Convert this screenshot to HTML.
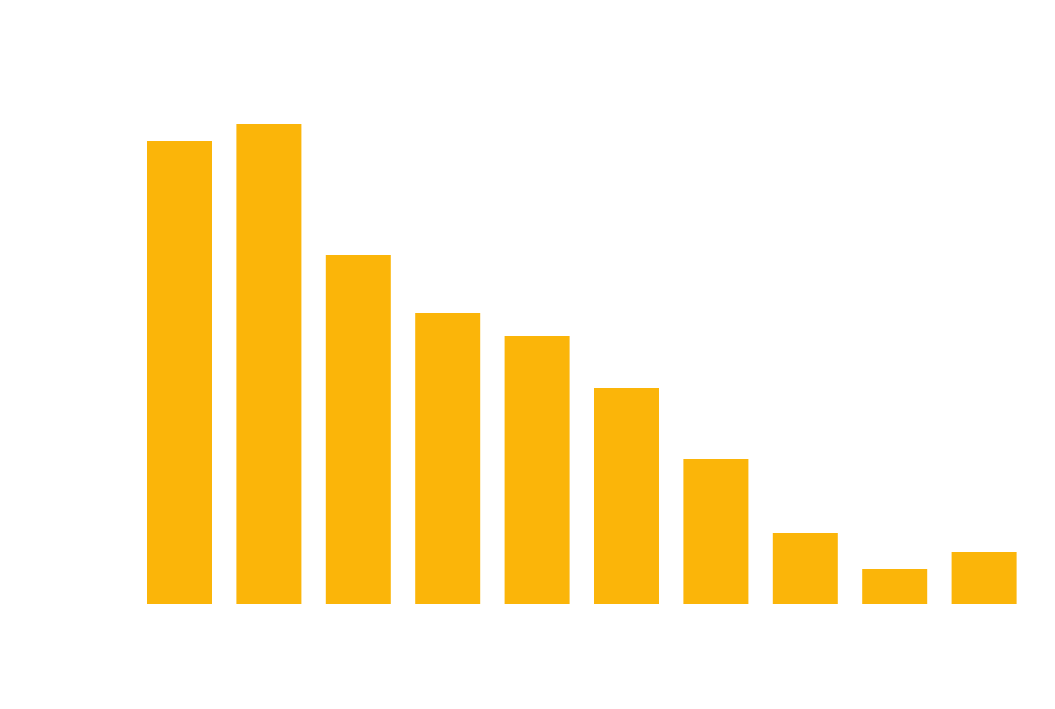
<!DOCTYPE html>
<html><head><style>
html,body{margin:0;padding:0;background:#fff;}
body{width:1055px;height:704px;overflow:hidden;}
</style></head><body>
<svg width="1055" height="704" xmlns="http://www.w3.org/2000/svg">
<rect width="1055" height="704" fill="#ffffff"/>
<g fill="#fbb509">
<rect x="147" y="141" width="65" height="463"/>
<rect x="236.4" y="124" width="65" height="480"/>
<rect x="325.8" y="255" width="65" height="349"/>
<rect x="415.2" y="313" width="65" height="291"/>
<rect x="504.6" y="336" width="65" height="268"/>
<rect x="594" y="388" width="65" height="216"/>
<rect x="683.4" y="459" width="65" height="145"/>
<rect x="772.8" y="533" width="65" height="71"/>
<rect x="862.2" y="569" width="65" height="35"/>
<rect x="951.6" y="552" width="65" height="52"/>
</g>
</svg>
</body></html>
